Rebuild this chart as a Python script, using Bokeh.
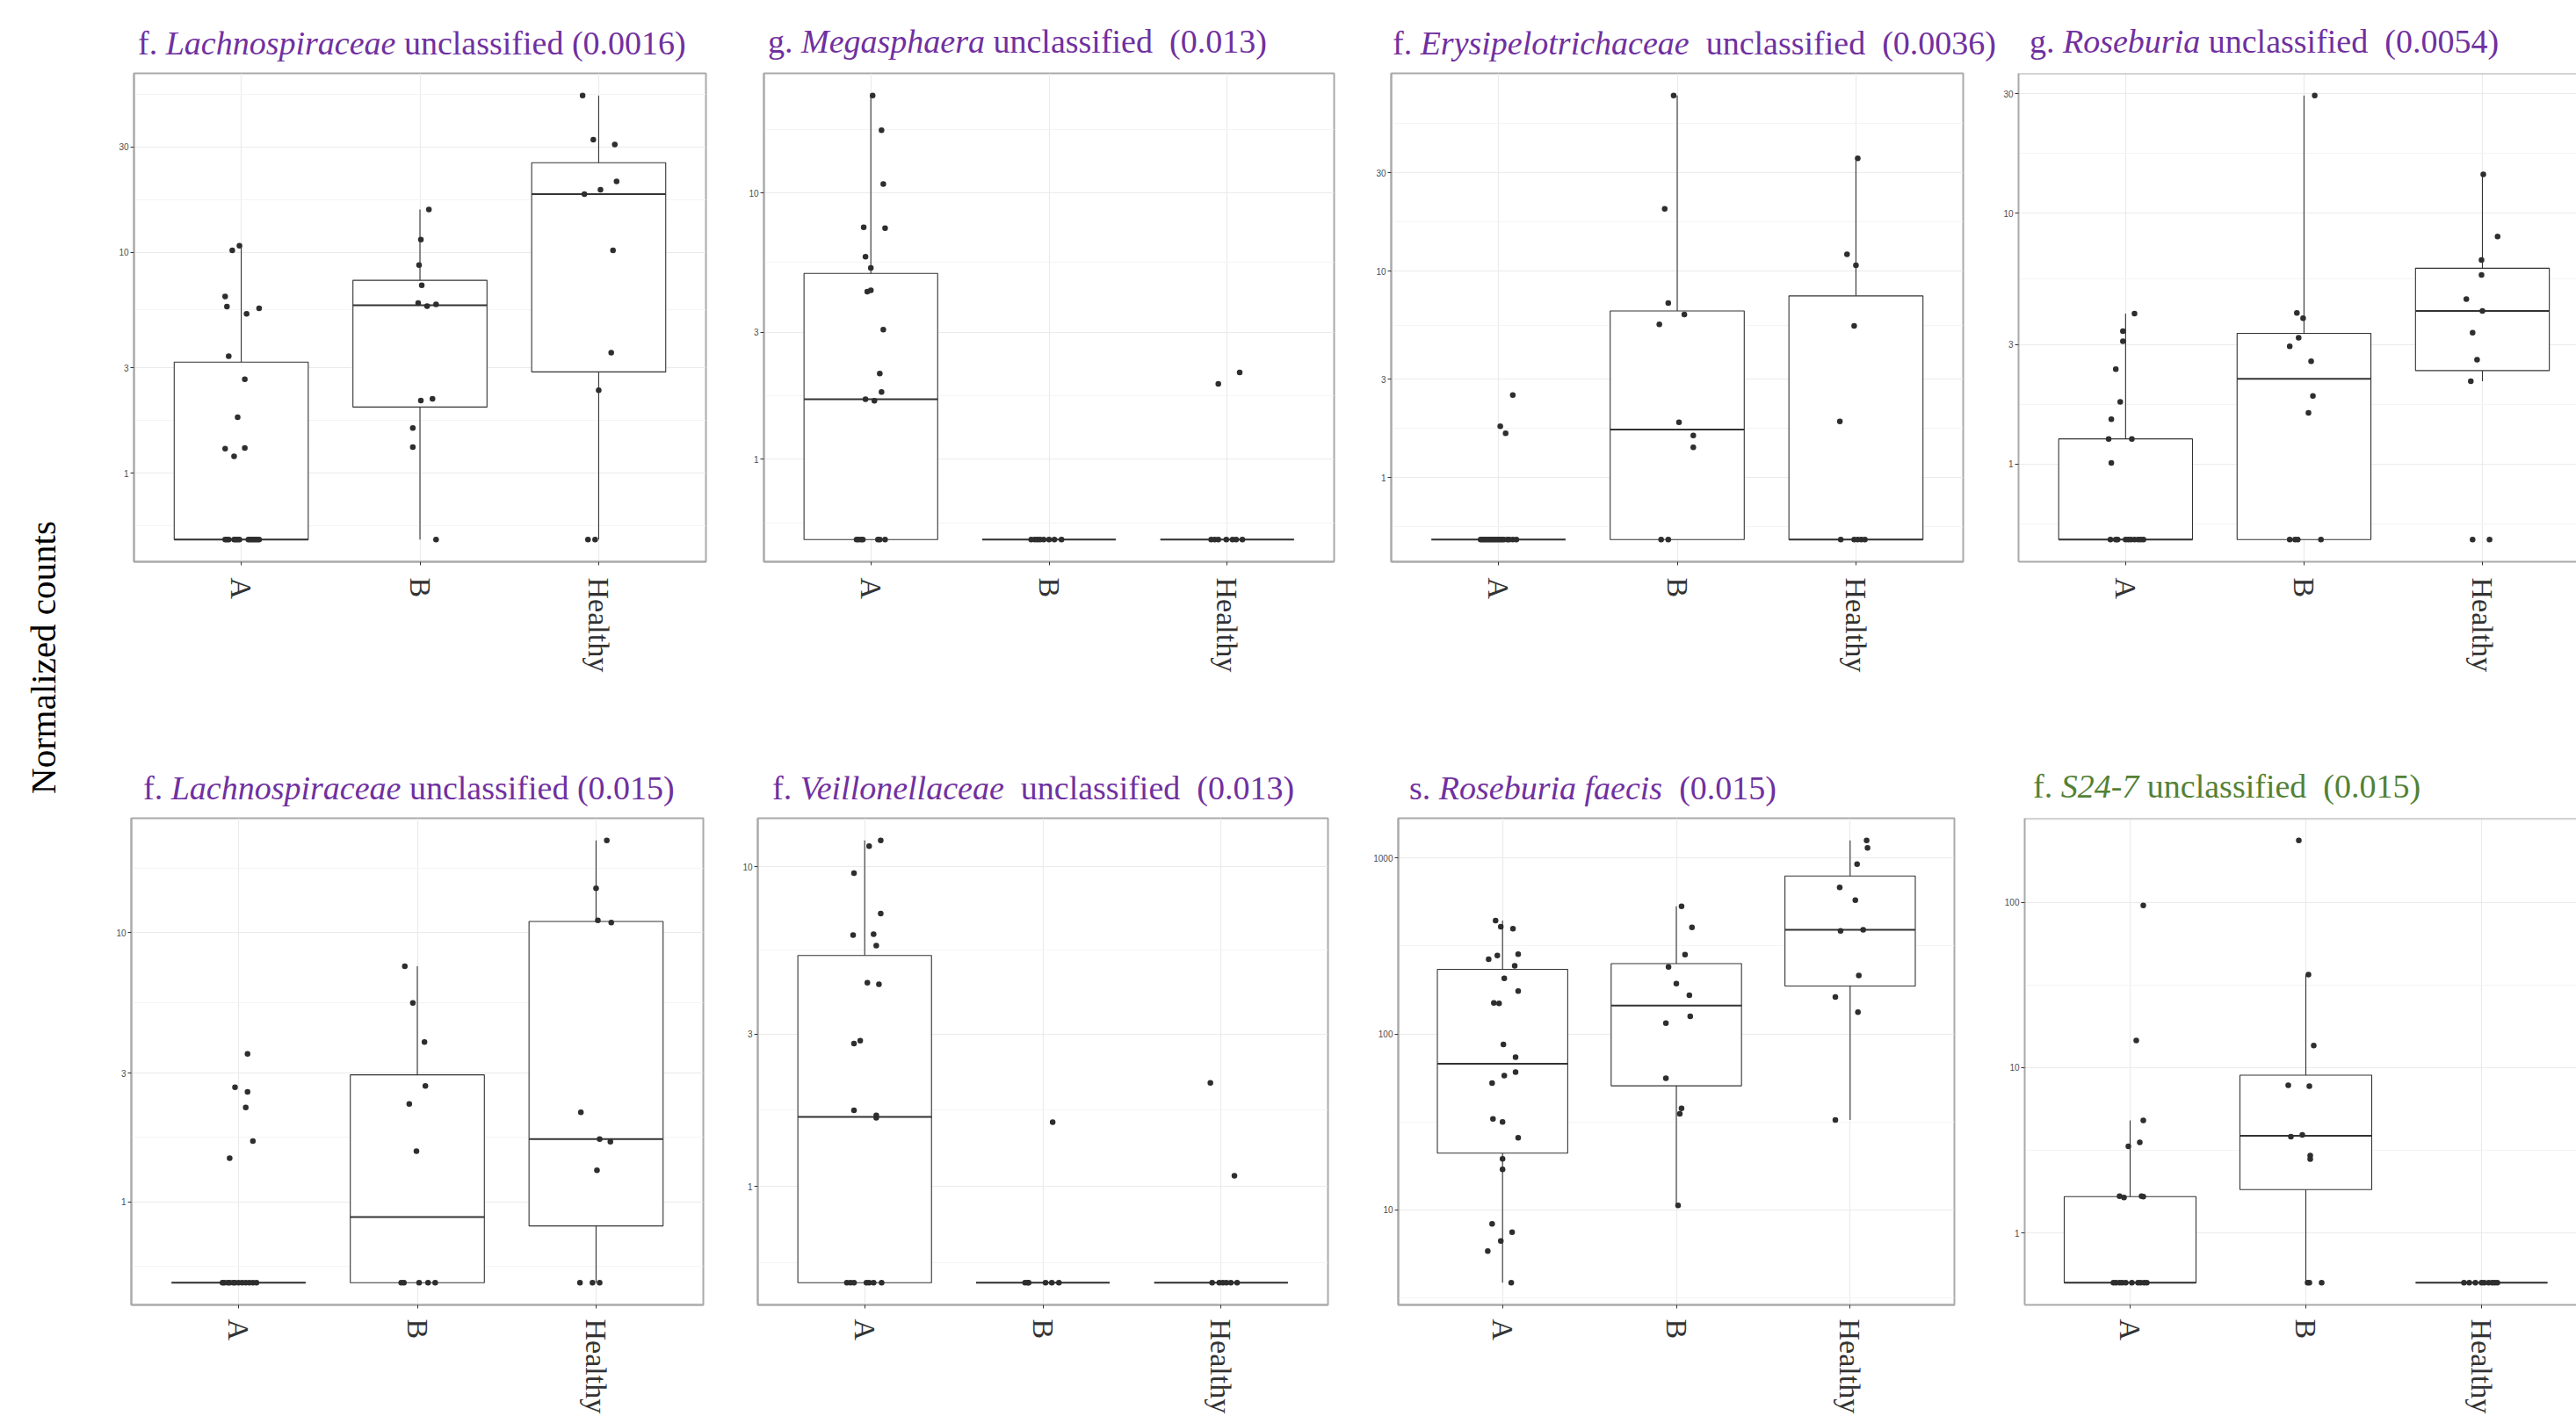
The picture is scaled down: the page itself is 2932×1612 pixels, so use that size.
import numpy as np
from bokeh.plotting import figure
from bokeh.layouts import row, column
from bokeh.models import Range1d, FixedTicker, CustomJSTickFormatter, Span, Div
from bokeh.core.properties import value
from bokeh.embed import file_html
from bokeh.resources import INLINE

# ---------------------------------------------------------------- data
groups = ["A", "B", "Healthy"]
y_label = "Normalized counts"
# zero counts are drawn at the pseudo-count 0.5

# Panel 1: f. Lachnospiraceae unclassified (0.0016)
lach1_title = ("f. ", "Lachnospiraceae", " unclassified (0.0016)")
lach1_A = [10.7, 10.2, 6.3, 5.67, 5.57, 5.26, 3.38, 2.66, 1.79, 1.30, 1.29, 1.19] + [0.5] * 14
lach1_A_jit = [-0.01, -0.05, -0.09, -0.08, 0.10, 0.03, -0.07, 0.02, -0.02, 0.02, -0.09, -0.04,
               -0.09, -0.08, -0.07, -0.04, -0.03, -0.02, -0.01, 0.04, 0.05, 0.06, 0.07, 0.08, 0.09, 0.10]
lach1_B = [15.6, 11.4, 8.74, 7.09, 5.88, 5.70, 5.80, 2.13, 2.17, 1.60, 1.31, 0.5]
lach1_B_jit = [0.05, 0.005, -0.005, 0.01, -0.01, 0.04, 0.09, 0.005, 0.07, -0.04, -0.04, 0.09]
lach1_H = [51.2, 32.3, 30.7, 20.9, 19.2, 18.3, 10.2, 3.51, 2.37, 0.5, 0.5]
lach1_H_jit = [-0.09, -0.03, 0.09, 0.10, 0.01, -0.08, 0.08, 0.07, 0.0, -0.06, -0.02]
lach1_lo = [0.5, 0.5, 0.5]
lach1_q1 = [0.5, 1.99, 2.87]
lach1_med = [0.5, 5.75, 18.3]
lach1_q3 = [3.18, 7.46, 25.4]
lach1_hi = [10.7, 15.6, 51.2]
lach1_ticks = [1, 3, 10, 30]

# Panel 2: g. Megasphaera unclassified (0.013)
mega_title = ("g. ", "Megasphaera", " unclassified  (0.013)")
mega_A = [23.2, 17.2, 10.8, 7.43, 7.38, 5.76, 5.23, 4.26, 4.31, 3.07, 2.10, 1.79, 1.68, 1.66] + [0.5] * 7
mega_A_jit = [0.01, 0.06, 0.07, -0.04, 0.08, -0.03, 0.0, -0.02, 0.0, 0.07, 0.05, 0.06, -0.03, 0.02,
              -0.08, -0.07, -0.055, -0.045, 0.04, 0.05, 0.08]
mega_B = [0.5] * 8
mega_B_jit = [-0.10, -0.08, -0.065, -0.05, -0.03, 0.0, 0.03, 0.07]
mega_H = [2.12, 1.92] + [0.5] * 7
mega_H_jit = [0.07, -0.05, -0.09, -0.07, -0.05, -0.005, 0.03, 0.05, 0.085]
mega_lo = [0.5, 0.5, 0.5]
mega_q1 = [0.5, 0.5, 0.5]
mega_med = [1.68, 0.5, 0.5]
mega_q3 = [4.99, 0.5, 0.5]
mega_hi = [23.2, 0.5, 0.5]
mega_ticks = [1, 3, 10]

# Panel 3: f. Erysipelotrichaceae unclassified (0.0036)
erys_title = ("f. ", "Erysipelotrichaceae", "  unclassified  (0.0036)")
erys_A = [2.51, 1.77, 1.64] + [0.5] * 18
erys_A_jit = [0.08, 0.01, 0.04, -0.10, -0.09, -0.08, -0.07, -0.06, -0.05, -0.04, -0.03, -0.02,
              -0.01, 0.0, 0.01, 0.02, 0.03, 0.05, 0.06, 0.08, 0.10]
erys_B = [71.2, 20.1, 7.02, 6.17, 5.53, 1.85, 1.60, 1.40, 0.5, 0.5]
erys_B_jit = [-0.02, -0.07, -0.05, 0.04, -0.10, 0.01, 0.09, 0.09, -0.09, -0.05]
erys_H = [35.3, 12.1, 10.7, 5.44, 1.87] + [0.5] * 5
erys_H_jit = [0.01, -0.05, 0.0, -0.01, -0.09, -0.085, -0.01, 0.01, 0.03, 0.05]
erys_lo = [0.5, 0.5, 0.5]
erys_q1 = [0.5, 0.5, 0.5]
erys_med = [0.5, 1.71, 0.5]
erys_q3 = [0.5, 6.42, 7.60]
erys_hi = [0.5, 71.2, 35.3]
erys_ticks = [1, 3, 10, 30]

# Panel 4: g. Roseburia unclassified (0.0054)
rose_title = ("g. ", "Roseburia", " unclassified  (0.0054)")
rose_A = [3.98, 3.39, 3.09, 2.39, 1.77, 1.51, 1.26, 1.26, 1.01] + [0.5] * 10
rose_A_jit = [0.05, -0.015, -0.015, -0.055, -0.03, -0.08, -0.095, 0.035, -0.08,
              -0.085, -0.055, -0.045, 0.0, 0.015, 0.03, 0.05, 0.07, 0.085, 0.10]
rose_B = [29.5, 4.01, 3.82, 3.19, 2.95, 2.57, 1.87, 1.60, 0.5, 0.5, 0.5, 0.5]
rose_B_jit = [0.06, -0.04, -0.005, -0.03, -0.08, 0.04, 0.05, 0.025, -0.08, -0.05, -0.035, 0.095]
rose_H = [14.3, 8.08, 6.51, 5.68, 4.55, 4.08, 3.34, 2.61, 2.14, 0.5, 0.5]
rose_H_jit = [0.005, 0.085, -0.005, -0.005, -0.09, 0.0, -0.055, -0.03, -0.065, -0.055, 0.04]
rose_lo = [0.5, 0.5, 2.14]
rose_q1 = [0.5, 0.5, 2.36]
rose_med = [0.5, 2.19, 4.08]
rose_q3 = [1.26, 3.32, 6.04]
rose_hi = [3.98, 29.5, 14.3]
rose_ticks = [1, 3, 10, 30]

# Panel 5: f. Lachnospiraceae unclassified (0.015)
lach2_title = ("f. ", "Lachnospiraceae", " unclassified (0.015)")
lach2_A = [3.54, 2.66, 2.56, 2.24, 1.68, 1.45] + [0.5] * 12
lach2_A_jit = [0.05, -0.02, 0.05, 0.04, 0.08, -0.05,
               -0.09, -0.08, -0.06, -0.05, -0.03, -0.02, 0.0, 0.02, 0.04, 0.06, 0.08, 0.10]
lach2_B = [7.49, 5.48, 3.92, 2.69, 2.31, 1.54, 0.5, 0.5, 0.5, 0.5, 0.5]
lach2_B_jit = [-0.07, -0.025, 0.04, 0.045, -0.045, -0.005, -0.09, -0.075, 0.01, 0.06, 0.10]
lach2_H = [22.0, 14.6, 11.1, 10.9, 2.15, 1.71, 1.67, 1.31, 0.5, 0.5, 0.5]
lach2_H_jit = [0.06, 0.0, 0.01, 0.085, -0.085, 0.02, 0.08, 0.005, -0.09, -0.02, 0.02]
lach2_lo = [0.5, 0.5, 0.5]
lach2_q1 = [0.5, 0.5, 0.813]
lach2_med = [0.5, 0.877, 1.71]
lach2_q3 = [0.5, 2.96, 11.0]
lach2_hi = [0.5, 7.49, 22.0]
lach2_ticks = [1, 3, 10]

# Panel 6: f. Veillonellaceae unclassified (0.013)
veil_title = ("f. ", "Veillonellaceae", "  unclassified  (0.013)")
veil_A = [12.1, 11.6, 9.56, 7.14, 6.12, 6.16, 5.67, 4.34, 4.29, 2.86, 2.80, 1.73, 1.67, 1.64] + [0.5] * 7
veil_A_jit = [0.09, 0.025, -0.06, 0.09, -0.065, 0.05, 0.065, 0.015, 0.08, -0.025, -0.06, -0.06, 0.065, 0.065,
              -0.10, -0.08, -0.06, 0.01, 0.025, 0.05, 0.095]
veil_B = [1.59] + [0.5] * 6
veil_B_jit = [0.055, -0.10, -0.085, -0.08, 0.015, 0.05, 0.09]
veil_H = [2.11, 1.08] + [0.5] * 6
veil_H_jit = [-0.06, 0.075, -0.05, -0.01, 0.01, 0.03, 0.055, 0.09]
veil_lo = [0.5, 0.5, 0.5]
veil_q1 = [0.5, 0.5, 0.5]
veil_med = [1.65, 0.5, 0.5]
veil_q3 = [5.28, 0.5, 0.5]
veil_hi = [12.1, 0.5, 0.5]
veil_ticks = [1, 3, 10]

# Panel 7: s. Roseburia faecis (0.015)
rfae_title = ("s. ", "Roseburia faecis", "  (0.015)")
rfae_A = [441, 407, 396, 279, 284, 266, 244, 207, 175, 150, 149, 87.1, 73.7, 60.6, 57.9, 52.5,
          32.9, 31.6, 25.7, 19.5, 17.0, 8.32, 7.46, 6.65, 5.82, 3.85]
rfae_A_jit = [-0.04, -0.01, 0.06, -0.03, 0.09, -0.08, 0.07, 0.01, 0.09, -0.05, -0.02, 0.005, 0.075,
              0.075, 0.01, -0.06, -0.055, 0.0, 0.09, 0.0, 0.0, -0.06, 0.055, -0.01, -0.085, 0.05]
rfae_B = [531, 403, 282, 240, 193, 166, 126, 115, 55.9, 37.8, 35.1, 10.6]
rfae_B_jit = [0.03, 0.09, 0.05, -0.045, 0.0, 0.075, 0.08, -0.06, -0.06, 0.03, 0.02, 0.01]
rfae_H = [1259, 1142, 923, 680, 575, 385, 391, 215, 162, 133, 32.4]
rfae_H_jit = [0.095, 0.10, 0.04, -0.06, 0.03, -0.055, 0.075, 0.05, -0.085, 0.045, -0.085]
rfae_lo = [3.85, 10.6, 32.4]
rfae_q1 = [21.0, 50.7, 187]
rfae_med = [67.6, 145, 391]
rfae_q3 = [233, 251, 790]
rfae_hi = [441, 531, 1259]
rfae_ticks = [10, 100, 1000]

# Panel 8: f. S24-7 unclassified (0.015)
s247_title = ("f. ", "S24-7", " unclassified  (0.015)")
s247_A = [95.8, 14.6, 4.80, 3.53, 3.34, 1.67, 1.64, 1.67, 1.66] + [0.5] * 10
s247_A_jit = [0.075, 0.035, 0.075, 0.055, -0.01, -0.06, -0.035, 0.065, 0.075,
              -0.095, -0.08, -0.06, -0.045, -0.025, 0.01, 0.045, 0.06, 0.08, 0.095]
s247_B = [237, 36.6, 13.6, 7.83, 7.73, 3.92, 3.82, 2.94, 2.80, 0.5, 0.5, 0.5]
s247_B_jit = [-0.04, 0.015, 0.045, -0.10, 0.02, -0.02, -0.085, 0.025, 0.025, 0.01, 0.02, 0.09]
s247_H = [0.5] * 9
s247_H_jit = [-0.10, -0.07, -0.035, 0.0, 0.015, 0.04, 0.06, 0.075, 0.09]
s247_lo = [0.5, 0.5, 0.5]
s247_q1 = [0.5, 1.83, 0.5]
s247_med = [0.5, 3.87, 0.5]
s247_q3 = [1.66, 9.01, 0.5]
s247_hi = [4.80, 36.6, 0.5]
s247_ticks = [1, 10, 100]

# ---------------------------------------------------------------- style
BORDER = "#aaaaaa"
GRID = "#ebebeb"
GRID_MINOR = "#f4f4f4"
INK = "#333333"
DOT = "#2e2e2e"
PURPLE = "#7030A0"
GREEN = "#538135"
SERIF = "Liberation Serif"
SANS = "Liberation Sans"

ROW1 = dict(div_h=78, fig_h=742, bt=5, bb=181, standoff=14)
ROW2 = dict(div_h=105, fig_h=687, bt=6, bb=123, standoff=12)


def minor_breaks(majors):
    b = np.log10(np.asarray(majors, float))
    d = b[1] - b[0]
    ext = np.concatenate([[b[0] - d], b, [b[-1] + d]])
    return list(10 ** ((ext[:-1] + ext[1:]) / 2))


def make_panel(vals, jits, lo, q1, med, q3, hi, ticks, title, tcolor, lay, rcfg):
    allv = np.concatenate([np.asarray(v, float) for v in vals])
    l0, l1 = np.log10(allv.min()), np.log10(allv.max())
    pad = 0.05 * (l1 - l0)
    yr = Range1d(10 ** (l0 - pad), 10 ** (l1 + pad))
    p = figure(width=lay["w"], height=rcfg["fig_h"], x_range=Range1d(0.4, lay["x_end"]), y_range=yr,
               y_axis_type="log", output_backend="svg", toolbar_location=None,
               min_border_left=lay["bl"], min_border_right=lay["br"],
               min_border_top=rcfg["bt"], min_border_bottom=rcfg["bb"],
               background_fill_color="white", border_fill_color="white")
    xs = np.arange(1, len(groups) + 1, dtype=float)
    p.segment(x0=xs, x1=xs, y0=q3, y1=hi, line_color=INK, line_width=1.1)
    p.segment(x0=xs, x1=xs, y0=lo, y1=q1, line_color=INK, line_width=1.1)
    p.vbar(x=xs, width=0.75, bottom=q1, top=q3, fill_color="white", line_color=INK, line_width=1.1)
    p.segment(x0=xs - 0.375, x1=xs + 0.375, y0=med, y1=med, line_color=INK, line_width=2.0)
    for i, (v, j) in enumerate(zip(vals, jits)):
        p.scatter(x=(i + 1) + np.asarray(j, float), y=v, size=6.5, fill_color=DOT, line_color=None)

    # axes
    xa = p.xaxis[0]
    xa.ticker = FixedTicker(ticks=list(xs))
    xa.formatter = CustomJSTickFormatter(args=dict(names=groups), code="return names[Math.round(tick) - 1];")
    xa.major_label_orientation = "vertical"
    xa.major_label_text_font = SERIF
    xa.major_label_text_font_size = "34px"
    xa.major_label_text_color = "#333333"
    xa.major_label_standoff = rcfg["standoff"]
    xa.major_tick_in = 0
    xa.major_tick_out = 4
    xa.major_tick_line_color = INK
    xa.minor_tick_line_color = None
    xa.axis_line_color = BORDER
    xa.axis_line_width = 2

    ya = p.yaxis[0]
    ya.ticker = FixedTicker(ticks=list(map(float, ticks)), minor_ticks=minor_breaks(ticks))
    ya.formatter = CustomJSTickFormatter(code="return tick.toString();")
    ya.major_label_text_font = SANS
    ya.major_label_text_font_size = "10px"
    ya.major_label_text_color = "#4d4d4d"
    ya.major_label_standoff = 2
    ya.major_tick_in = 0
    ya.major_tick_out = 4
    ya.major_tick_line_color = INK
    ya.minor_tick_line_color = None
    ya.axis_line_color = BORDER
    ya.axis_line_width = 2

    p.xgrid.grid_line_color = GRID
    p.xgrid.grid_line_width = 1.2
    p.ygrid.grid_line_color = GRID
    p.ygrid.grid_line_width = 1.2
    p.ygrid.minor_grid_line_color = GRID_MINOR
    p.ygrid.minor_grid_line_width = 1.0

    if lay["full_border"]:
        p.outline_line_color = BORDER
        p.outline_line_width = 2
    else:
        p.outline_line_color = None
        p.add_layout(Span(location=yr.end, dimension="width", line_color=BORDER, line_width=2))

    pre, ital, post = title
    html = ('<div style="padding:%dpx 0 0 %dpx;font-family:\'%s\',serif;font-size:38px;line-height:1;'
            'color:%s;white-space:pre;">%s<i>%s</i>%s</div>' % (lay["tpt"], lay["tpl"], SERIF, tcolor, pre, ital, post))
    d = Div(text=html, width=lay["w"], height=rcfg["div_h"], margin=0)
    return column(d, p, spacing=0)


# layout of each panel (figure width, borders, title offsets)
L1 = dict(w=748, bl=64, br=33, x_end=3.6, full_border=True, tpl=69, tpt=30)
L2 = dict(w=714, bl=33, br=32, x_end=3.6, full_border=True, tpl=38, tpt=28)
L3 = dict(w=716, bl=33, br=32, x_end=3.6, full_border=True, tpl=35, tpt=30)
L4 = dict(w=666, bl=31, br=0, x_end=3.527, full_border=False, tpl=44, tpt=28)
L5 = dict(w=742, bl=61, br=30, x_end=3.6, full_border=True, tpl=75, tpt=58)
L6 = dict(w=728, bl=32, br=47, x_end=3.6, full_border=True, tpl=49, tpt=58)
L7 = dict(w=712, bl=33, br=46, x_end=3.6, full_border=True, tpl=46, tpt=58)
L8 = dict(w=662, bl=34, br=0, x_end=3.54, full_border=False, tpl=44, tpt=56)

c1 = make_panel([lach1_A, lach1_B, lach1_H], [lach1_A_jit, lach1_B_jit, lach1_H_jit],
                lach1_lo, lach1_q1, lach1_med, lach1_q3, lach1_hi, lach1_ticks, lach1_title, PURPLE, L1, ROW1)
c2 = make_panel([mega_A, mega_B, mega_H], [mega_A_jit, mega_B_jit, mega_H_jit],
                mega_lo, mega_q1, mega_med, mega_q3, mega_hi, mega_ticks, mega_title, PURPLE, L2, ROW1)
c3 = make_panel([erys_A, erys_B, erys_H], [erys_A_jit, erys_B_jit, erys_H_jit],
                erys_lo, erys_q1, erys_med, erys_q3, erys_hi, erys_ticks, erys_title, PURPLE, L3, ROW1)
c4 = make_panel([rose_A, rose_B, rose_H], [rose_A_jit, rose_B_jit, rose_H_jit],
                rose_lo, rose_q1, rose_med, rose_q3, rose_hi, rose_ticks, rose_title, PURPLE, L4, ROW1)
c5 = make_panel([lach2_A, lach2_B, lach2_H], [lach2_A_jit, lach2_B_jit, lach2_H_jit],
                lach2_lo, lach2_q1, lach2_med, lach2_q3, lach2_hi, lach2_ticks, lach2_title, PURPLE, L5, ROW2)
c6 = make_panel([veil_A, veil_B, veil_H], [veil_A_jit, veil_B_jit, veil_H_jit],
                veil_lo, veil_q1, veil_med, veil_q3, veil_hi, veil_ticks, veil_title, PURPLE, L6, ROW2)
c7 = make_panel([rfae_A, rfae_B, rfae_H], [rfae_A_jit, rfae_B_jit, rfae_H_jit],
                rfae_lo, rfae_q1, rfae_med, rfae_q3, rfae_hi, rfae_ticks, rfae_title, PURPLE, L7, ROW2)
c8 = make_panel([s247_A, s247_B, s247_H], [s247_A_jit, s247_B_jit, s247_H_jit],
                s247_lo, s247_q1, s247_med, s247_q3, s247_hi, s247_ticks, s247_title, GREEN, L8, ROW2)

# shared y-axis label
TOTAL_H = ROW1["div_h"] + ROW1["fig_h"] + ROW2["div_h"] + ROW2["fig_h"]
lab = figure(width=88, height=TOTAL_H, x_range=Range1d(0, 88), y_range=Range1d(0, TOTAL_H),
             x_axis_location=None, y_axis_location=None, output_backend="svg", toolbar_location=None,
             min_border=0, min_border_left=0, min_border_right=0, min_border_top=0, min_border_bottom=0)
lab.grid.visible = False
lab.outline_line_color = None
lab.text(x=[48], y=[TOTAL_H - 748], text=[y_label], angle=np.pi / 2, text_font=value(SERIF),
         text_font_size="41px", text_align="center", text_baseline="middle", text_color="black")

layout = row(lab, column(row(c1, c2, c3, c4, spacing=0), row(c5, c6, c7, c8, spacing=0), spacing=0), spacing=0)

open("out.html", "w").write(file_html(layout, INLINE))
